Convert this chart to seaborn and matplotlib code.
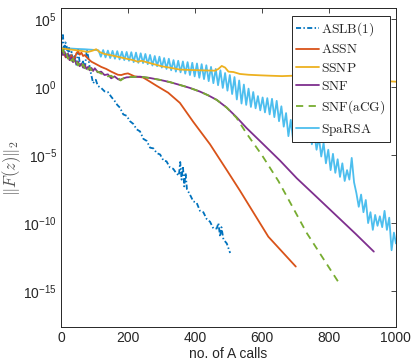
import numpy as np
import pandas as pd
import seaborn as sns
import matplotlib.pyplot as plt
from matplotlib.ticker import FixedLocator, LogFormatterSciNotation

# values are log10 of ||F(z)||_2
aslb_x = [0, 3, 6, 9, 13, 16, 20, 24, 28, 32, 36, 41, 46, 51, 56, 61, 66, 71, 77, 81,
          86, 96, 104, 110, 120, 130, 140, 150, 160, 168, 176, 186, 196, 206, 216, 226,
          236, 246, 256, 266, 276, 286, 296, 306, 315, 325, 335, 345, 352, 356, 360, 364,
          368, 372, 376, 385, 395, 405, 415, 425, 435, 445, 455, 465, 470, 475, 479, 485,
          495, 505]
aslb_y = [3.0, 3.5, 3.85, 2.5, 3.3, 3.2, 2.4, 2.9, 2.2, 2.6, 1.9, 2.3, 1.6, 2.74, 1.8,
          1.64, 1.9, 1.3, 2.74, 2.3, 1.4, 0.3, 0.55, 0.1, -0.05, -0.3, -0.35, -0.7, -1.0,
          -1.3, -1.5, -2.0, -2.1, -2.5, -2.7, -3.1, -3.25, -3.8, -3.95, -4.45, -4.5, -4.85,
          -4.95, -5.4, -5.45, -5.9, -6.0, -6.35, -6.5, -5.5, -6.8, -5.8, -7.3, -6.3, -7.5,
          -7.9, -8.4, -8.5, -9.1, -9.2, -9.7, -9.9, -10.4, -10.4, -10.0, -11.0, -10.3,
          -11.2, -11.5, -12.2]

assn_x = [0, 8, 14, 20, 26, 31, 36, 41, 46, 51, 56, 61, 66, 71, 81, 91, 105, 120, 135,
          150, 170, 180, 190, 200, 220, 245, 260, 286, 320, 355, 395, 445, 495, 534, 564,
          619, 660, 701]
assn_y = [2.74, 2.5, 2.2, 2.45, 2.0, 2.37, 2.1, 2.13, 2.5, 2.65, 2.4, 2.55, 2.3, 2.37,
          2.1, 1.88, 1.7, 1.5, 1.35, 1.15, 0.92, 0.9, 0.98, 1.02, 0.8, 0.72, 0.5, 0.1,
          -0.4, -1.15, -2.55, -4.2, -6.1, -7.6, -8.8, -11.0, -12.1, -13.2]

ssnp_x = [0, 20, 41, 60, 81, 95, 105, 115, 130, 160, 190, 215, 230, 240, 270, 300, 330,
          355, 390, 430, 460, 470, 480, 490, 500, 515, 534, 560, 594, 624, 660, 693, 730,
          780, 830, 880, 930, 970, 1000]
ssnp_y = [2.87, 2.8, 2.74, 2.68, 2.6, 2.7, 2.8, 2.6, 2.45, 2.3, 2.13, 2.0, 1.88, 1.95,
          1.75, 1.55, 1.42, 1.3, 1.27, 1.24, 1.22, 1.35, 1.57, 1.45, 1.15, 1.12, 0.98,
          0.92, 0.88, 0.85, 0.82, 0.85, 0.78, 0.7, 0.64, 0.58, 0.5, 0.45, 0.41]

snf_x = [0, 6, 11, 16, 21, 26, 31, 36, 41, 46, 51, 56, 61, 66, 71, 76, 81, 86, 91, 96,
         101, 110, 120, 130, 140, 150, 160, 170, 176, 186, 196, 216, 236, 266, 296, 325,
         355, 385, 415, 440, 465, 495, 524, 554, 600, 654, 704, 760, 820, 880, 934]
snf_y = [2.74, 2.37, 2.6, 2.2, 2.45, 2.0, 2.2, 1.85, 2.05, 1.7, 1.88, 1.55, 1.75, 1.45,
         1.65, 1.35, 1.5, 1.25, 1.42, 1.2, 1.4, 1.1, 1.15, 0.9, 0.95, 0.66, 0.8, 0.6,
         0.54, 0.65, 0.73, 0.76, 0.78, 0.68, 0.54, 0.38, 0.17, -0.05, -0.32, -0.6, -0.93,
         -1.5, -2.2, -3.0, -4.1, -5.4, -6.7, -8.0, -9.4, -10.8, -12.1]

acg_x = [0, 6, 11, 16, 21, 26, 31, 36, 41, 46, 51, 56, 61, 66, 71, 76, 81, 86, 91, 96,
         101, 110, 120, 130, 140, 150, 160, 170, 178, 188, 196, 216, 236, 266, 296, 325,
         355, 385, 415, 440, 465, 495, 524, 554, 600, 649, 700, 733, 780, 835]
acg_y = [2.6, 2.75, 2.3, 2.5, 2.1, 2.3, 1.95, 2.1, 1.75, 1.95, 1.6, 1.8, 1.5, 1.7, 1.4,
         1.55, 1.3, 1.45, 1.25, 1.35, 1.2, 1.15, 1.0, 1.0, 0.8, 0.85, 0.65, 0.7, 0.5,
         0.68, 0.74, 0.76, 0.78, 0.68, 0.54, 0.38, 0.17, -0.05, -0.32, -0.6, -0.93, -1.5,
         -2.25, -3.4, -5.0, -6.9, -9.2, -10.7, -12.5, -14.6]

spa_x = [0, 15, 30, 50, 70, 90, 105,
         112, 119, 126, 133, 140, 147, 154, 161, 168, 175, 182, 189, 196, 203, 210, 217,
         224, 231, 238, 245, 252, 259, 266, 273, 280, 287, 294, 301, 308, 315, 322, 329,
         336, 343, 350, 357, 364, 371, 378, 385, 392, 399, 406, 413, 420, 427, 434, 441,
         448, 455, 462, 469, 476, 483, 490, 497, 504, 511, 518, 525, 532, 539, 546, 553,
         560, 567, 574, 581, 588, 595, 602, 609, 616, 623, 630, 637, 644, 651, 658, 665,
         672, 679, 686, 693, 700, 707, 714, 721, 728, 735, 742, 749, 756, 763, 770, 777,
         784, 791, 798, 805, 812, 819, 826, 833, 840, 847, 854, 861, 868, 875, 882, 889,
         896, 903, 910, 917, 924, 931, 938, 945, 952, 959, 966, 973, 980, 987, 994, 1000]
spa_y = [2.9, 2.88, 2.85, 2.82, 2.8, 2.77, 2.74,
         2.72, 2.25, 2.74, 2.2, 2.7, 2.15, 2.68, 2.1, 2.66, 2.05, 2.62, 2.0, 2.6, 1.95,
         2.58, 1.85, 2.55, 1.8, 2.5, 1.78, 2.45, 1.7, 2.38, 1.6, 2.3, 1.55, 2.25, 1.45,
         2.15, 1.35, 2.1, 1.25, 2.0, 1.15, 1.95, 1.1, 1.9, 1.0, 1.85, 0.9, 1.8, 0.8, 1.75,
         0.7, 1.7, 0.6, 1.62, 0.45, 1.5, 0.3, 1.35, 0.15, 1.25, -0.05, 1.05, -0.25, 0.9,
         -0.5, 0.75, -0.9, 0.5, -1.2, 0.2, -1.3, -0.1, -1.45, -0.35, -1.55, -0.65, -1.7,
         -0.75, -1.85, -0.8, -2.0, -0.85, -2.2, -1.0, -2.5, -1.4, -2.9, -1.9, -3.6, -2.4,
         -3.9, -2.6, -3.95, -2.7, -4.0, -2.8, -4.05, -2.9, -4.2, -3.3, -4.6, -3.7, -5.1,
         -4.1, -5.6, -4.6, -6.1, -4.9, -6.3, -5.3, -6.6, -5.6, -6.9, -6.1, -6.8, -5.2,
         -7.0, -7.8, -8.8, -7.9, -9.2, -8.3, -10.0, -9.2, -10.5, -9.4, -10.2, -9.5, -10.3,
         -9.1, -10.5, -9.6, -12.0, -10.7, -11.5]

labels = [r'$\mathrm{ASLB(1)}$', r'$\mathrm{ASSN}$', r'$\mathrm{SSNP}$', r'$\mathrm{SNF}$',
          r'$\mathrm{SNF(aCG)}$', r'$\mathrm{SpaRSA}$']
colors = ['#0072BD', '#D95319', '#EDB120', '#7E2F8E', '#77AC30', '#4DBEEE']

sns.set_style('white')
plt.rcParams['font.family'] = ['Liberation Sans', 'DejaVu Sans']
plt.rcParams['mathtext.fontset'] = 'cm'
plt.rcParams['axes.unicode_minus'] = False

fig = plt.figure(figsize=(4.12, 3.62), dpi=100)
ax = fig.add_axes([0.148, 0.0967, 0.813, 0.881])

series = [(aslb_x, aslb_y, (2.8, 1.3, 0.8, 1.3)), (assn_x, assn_y, None),
          (ssnp_x, ssnp_y, None), (snf_x, snf_y, None), (acg_x, acg_y, (4, 3)),
          (spa_x, spa_y, None)]
# SpaRSA goes underneath the others, as in the reference
order = [5, 0, 1, 2, 3, 4]
handles = {}
for i in order:
    xs, ys, dash = series[i]
    df = pd.DataFrame({'x': xs, 'y': 10.0 ** np.array(ys)})
    sns.lineplot(data=df, x='x', y='y', ax=ax, color=colors[i], linewidth=1.3,
                 sort=False, estimator=None, label=labels[i])
    handles[i] = ax.get_lines()[-1]
    if dash is not None:
        handles[i].set_dashes(dash)

ax.set_yscale('log')
ax.set_xlim(0, 1000)
ax.set_ylim(10 ** -17.65, 10 ** 5.83)
ax.yaxis.set_major_locator(FixedLocator([1e5, 1e0, 1e-5, 1e-10, 1e-15]))
ax.yaxis.set_major_formatter(LogFormatterSciNotation())
ax.yaxis.set_minor_locator(FixedLocator([]))
ax.set_xticks([0, 200, 400, 600, 800, 1000])

ax.tick_params(direction='in', top=True, right=True, length=3.4, width=0.6,
               labelsize=10, colors='#262626', pad=3)
for s in ax.spines.values():
    s.set_color('#262626')
    s.set_linewidth(0.7)

ax.set_xlabel('no. of A calls', fontsize=10, color='#262626', labelpad=1)
ax.set_ylabel(r'$\|F(z)\|_2$', fontsize=12, color='#555555')
ax.yaxis.set_label_coords(-0.112, 0.5)

leg = ax.legend([handles[i] for i in range(6)], labels, loc='upper right',
                bbox_to_anchor=(0.982, 0.975), borderaxespad=0, fontsize=9.7,
                frameon=True, fancybox=False, framealpha=1, edgecolor='#262626',
                handlelength=1.75, handletextpad=0.15, labelspacing=0.4,
                borderpad=0.3)
leg.get_frame().set_linewidth(0.7)

fig.savefig('out.png', dpi=100)
